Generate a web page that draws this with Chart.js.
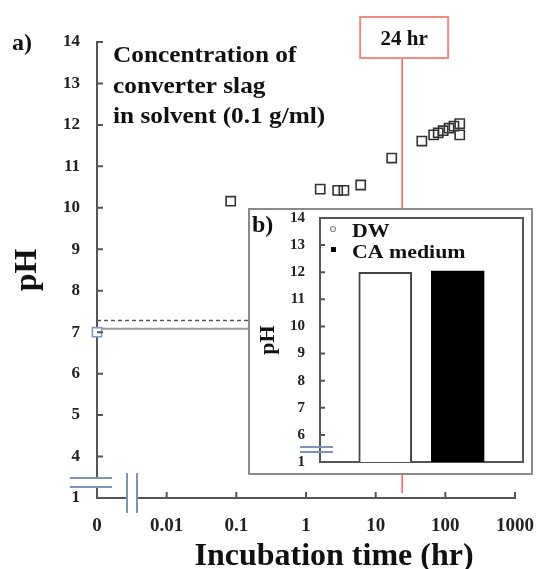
<!DOCTYPE html>
<html>
<head>
<meta charset="utf-8">
<script src="https://cdn.jsdelivr.net/npm/chart.js@4.4.0/dist/chart.umd.min.js"></script>
<style>
  html, body { margin: 0; padding: 0; background: #fff; }
  #wrap { position: relative; width: 539px; height: 569px; }
  #main { position: absolute; left: 0; top: 0; }
  #inset { position: absolute; left: 248px; top: 208px; width: 285px; height: 267px;
           box-sizing: border-box; border: 2px solid #8a8a8a; background: #fff; }
  #insetChart { position: absolute; left: 0; top: 0; }
</style>
</head>
<body>
<div id="wrap">
  <canvas id="main" width="539" height="569"></canvas>
  <div id="inset"><canvas id="insetChart" width="281" height="263"></canvas></div>
</div>
<script>
const FONT = "'Liberation Serif', 'Times New Roman', serif";

// a) incubation time (hr) vs pH
const times = [0.083, 1.6, 2.85, 3.5, 6.1, 17, 46, 68, 79, 93, 113, 133, 161, 161];
const phValues = [10.16, 10.45, 10.42, 10.42, 10.55, 11.2, 11.61, 11.76, 11.81, 11.86, 11.92, 11.97, 12.03, 11.76];
// starting point, shown at the "0" position of the axis
const startTime = [0.001];
const startPh = [7.0];
// reference levels running in from the left axis
const levelDashed = 7.28;
const levelSolid = 7.08;
const markTime = 24;

const xTickVals = [0.001, 0.01, 0.1, 1, 10, 100, 1000];
const xTickLabels = ['0', '0.01', '0.1', '1', '10', '100', '1000'];
const yTickVals = [3, 4, 5, 6, 7, 8, 9, 10, 11, 12, 13, 14];
const yTickLabels = ['1', '4', '5', '6', '7', '8', '9', '10', '11', '12', '13', '14'];

// b) pH after 24 hr
const mediums = ['DW', 'CA medium'];
const mediumPh = [12.0, 12.05];
const insetTickVals = [5, 6, 7, 8, 9, 10, 11, 12, 13, 14];
const insetTickLabels = ['1', '6', '7', '8', '9', '10', '11', '12', '13', '14'];

const breakColor = '#7d93b8';

function stretchText(ctx, text, x, y, sx) {
    ctx.save();
    ctx.translate(x, y);
    ctx.scale(sx, 1);
    ctx.fillText(text, 0, 0);
    ctx.restore();
}

const mainDecor = {
    id: 'mainDecor',
    afterDraw(chart) {
        const ctx = chart.ctx;
        const xs = chart.scales.x;
        const ys = chart.scales.y;
        const area = chart.chartArea;
        ctx.save();

        // inward tick marks
        ctx.strokeStyle = '#555';
        ctx.lineWidth = 2;
        ctx.beginPath();
        yTickVals.slice(1).forEach(v => {
            const y = ys.getPixelForValue(v);
            ctx.moveTo(area.left, y);
            ctx.lineTo(area.left + 6, y);
        });
        xTickVals.slice(1).forEach(v => {
            const x = xs.getPixelForValue(v);
            ctx.moveTo(x, area.bottom);
            ctx.lineTo(x, area.bottom - 6);
        });
        ctx.stroke();

        // axis breaks
        const yb = ys.getPixelForValue(3);
        const xb = xs.getPixelForValue(0.001);
        ctx.fillStyle = '#fff';
        ctx.fillRect(area.left - 3, yb - 19, 6, 7);
        ctx.fillRect(xb + 31, area.bottom - 3, 8, 6);
        ctx.strokeStyle = breakColor;
        ctx.lineWidth = 2;
        ctx.beginPath();
        ctx.moveTo(area.left - 27, yb - 20); ctx.lineTo(area.left + 15, yb - 20);
        ctx.moveTo(area.left - 27, yb - 11); ctx.lineTo(area.left + 15, yb - 11);
        ctx.moveTo(xb + 30, area.bottom - 25); ctx.lineTo(xb + 30, area.bottom + 15);
        ctx.moveTo(xb + 40, area.bottom - 25); ctx.lineTo(xb + 40, area.bottom + 15);
        ctx.stroke();

        // 24 hr marker
        const xm = xs.getPixelForValue(markTime);
        ctx.strokeStyle = '#ff5a5a';
        ctx.lineWidth = 1.5;
        ctx.beginPath();
        ctx.moveTo(xm, 58);
        ctx.lineTo(xm, area.bottom - 5);
        ctx.stroke();
        ctx.strokeStyle = '#f38a84';
        ctx.lineWidth = 2;
        ctx.strokeRect(xm - 42, 17, 88, 41);
        ctx.fillStyle = '#111';
        ctx.font = 'bold 21px ' + FONT;
        ctx.textAlign = 'center';
        ctx.textBaseline = 'alphabetic';
        ctx.fillText('24 hr', xm + 2, 45);

        // annotation and labels
        ctx.textAlign = 'left';
        ctx.font = 'bold 23px ' + FONT;
        stretchText(ctx, 'Concentration of', 113, 62, 1.1);
        stretchText(ctx, 'converter slag', 113, 93, 1.1);
        stretchText(ctx, 'in solvent (0.1 g/ml)', 113, 123, 1.1);
        ctx.font = 'bold 24px ' + FONT;
        ctx.fillText('a)', 12, 50);
        ctx.font = 'bold 32px ' + FONT;
        ctx.textAlign = 'center';
        stretchText(ctx, 'Incubation time (hr)', 334, 565, 1.0);
        ctx.restore();
    }
};

new Chart(document.getElementById('main'), {
    type: 'scatter',
    data: {
        datasets: [
            {
                data: times.map((t, i) => ({x: t, y: phValues[i]})),
                pointStyle: 'rect', pointRadius: 6.5, borderWidth: 1.6,
                borderColor: '#333', backgroundColor: 'rgba(255,255,255,0)', order: 1
            },
            {
                data: startTime.map((t, i) => ({x: t, y: startPh[i]})),
                pointStyle: 'rect', pointRadius: 6.5, borderWidth: 1.6,
                borderColor: '#7a9ad0', backgroundColor: '#fff', clip: false, order: 0
            },
            {
                data: [{x: 0.001, y: levelDashed}, {x: 3, y: levelDashed}],
                showLine: true, pointRadius: 0, borderColor: '#555', borderWidth: 1.5,
                borderDash: [4, 3], order: 3
            },
            {
                data: [{x: 0.001, y: levelSolid}, {x: 3, y: levelSolid}],
                showLine: true, pointRadius: 0, borderColor: '#9a9a9a', borderWidth: 2, order: 2
            }
        ]
    },
    options: {
        responsive: false,
        animation: false,
        layout: {padding: {top: 42, right: 24, left: 0, bottom: 0}},
        scales: {
            x: {
                type: 'logarithmic', min: 0.001, max: 1000,
                afterBuildTicks: s => { s.ticks = xTickVals.map(v => ({value: v})); },
                afterFit: s => { s.height = 71; s.paddingLeft = 0; s.paddingRight = 0; },
                grid: {display: false, drawTicks: false},
                border: {display: true, color: '#555', width: 2},
                ticks: {
                    autoSkip: false, maxRotation: 0, padding: 17, color: '#222',
                    font: {family: FONT, size: 19, weight: 'bold'},
                    callback: (v, i) => xTickLabels[i]
                }
            },
            y: {
                type: 'linear', min: 3, max: 14,
                afterBuildTicks: s => { s.ticks = yTickVals.map(v => ({value: v})); },
                afterFit: s => { s.width = 97; },
                grid: {display: false, drawTicks: false},
                border: {display: true, color: '#555', width: 2},
                ticks: {
                    padding: 17, color: '#222',
                    font: {family: FONT, size: 17, weight: 'bold'},
                    callback: (v, i) => yTickLabels[i]
                },
                title: {
                    display: true, text: 'pH', color: '#111',
                    font: {family: FONT, size: 32, weight: 'bold'},
                    padding: {top: 9, bottom: 0}
                }
            }
        },
        plugins: {legend: {display: false}, tooltip: {enabled: false}}
    },
    plugins: [mainDecor]
});

const insetDecor = {
    id: 'insetDecor',
    afterDraw(chart) {
        const ctx = chart.ctx;
        const ys = chart.scales.y;
        const area = chart.chartArea;
        ctx.save();
        ctx.strokeStyle = '#555';
        ctx.lineWidth = 2;
        ctx.beginPath();
        ctx.moveTo(area.left, area.top);
        ctx.lineTo(area.right, area.top);
        ctx.lineTo(area.right, area.bottom);
        insetTickVals.slice(1).forEach(v => {
            const y = ys.getPixelForValue(v);
            ctx.moveTo(area.left, y);
            ctx.lineTo(area.left + 5, y);
        });
        ctx.stroke();

        // axis break
        const yb = ys.getPixelForValue(5);
        ctx.strokeStyle = breakColor;
        ctx.beginPath();
        ctx.moveTo(area.left - 20, yb - 15); ctx.lineTo(area.left + 13, yb - 15);
        ctx.moveTo(area.left - 20, yb - 10); ctx.lineTo(area.left + 13, yb - 10);
        ctx.stroke();

        // legend
        const ds = chart.data.datasets;
        ctx.strokeStyle = '#888';
        ctx.lineWidth = 1.2;
        ctx.beginPath();
        ctx.arc(area.left + 13, area.top + 11, 2.5, 0, Math.PI * 2);
        ctx.stroke();
        ctx.fillStyle = '#000';
        ctx.fillRect(area.left + 11, area.top + 29, 5, 5);
        ctx.fillStyle = '#111';
        ctx.font = 'bold 19px ' + FONT;
        ctx.textAlign = 'left';
        stretchText(ctx, ds[0].label, area.left + 32, area.top + 19, 1.15);
        stretchText(ctx, ds[1].label, area.left + 32, area.top + 40, 1.15);

        ctx.font = 'bold 24px ' + FONT;
        ctx.fillText('b)', 2, 22);
        ctx.restore();
    }
};

new Chart(document.getElementById('insetChart'), {
    type: 'bar',
    data: {
        datasets: mediums.map((m, i) => ({
            label: m,
            data: [{x: i, y: mediumPh[i]}],
            backgroundColor: i === 0 ? '#fff' : '#000',
            borderColor: i === 0 ? '#444' : '#000',
            borderWidth: 2
        }))
    },
    options: {
        responsive: false,
        animation: false,
        datasets: {bar: {grouped: false, barThickness: 53}},
        layout: {padding: {top: 8, right: 8, left: 0, bottom: 0}},
        scales: {
            x: {
                type: 'linear', min: -0.9, max: 1.9, offset: false,
                afterFit: s => { s.height = 11; },
                grid: {display: false, drawTicks: false},
                ticks: {display: false},
                border: {display: true, color: '#555', width: 2}
            },
            y: {
                type: 'linear', min: 5, max: 14,
                afterBuildTicks: s => { s.ticks = insetTickVals.map(v => ({value: v})); },
                afterFit: s => { s.width = 70; s.paddingTop = 0; s.paddingBottom = 0; },
                grid: {display: false, drawTicks: false},
                border: {display: true, color: '#555', width: 2},
                ticks: {
                    padding: 15, color: '#222',
                    font: {family: FONT, size: 15, weight: 'bold'},
                    callback: (v, i) => insetTickLabels[i]
                },
                title: {
                    display: true, text: 'pH', color: '#111',
                    font: {family: FONT, size: 22, weight: 'bold'},
                    padding: {top: 5, bottom: 0}
                }
            }
        },
        plugins: {legend: {display: false}, tooltip: {enabled: false}}
    },
    plugins: [insetDecor]
});
</script>
</body>
</html>
